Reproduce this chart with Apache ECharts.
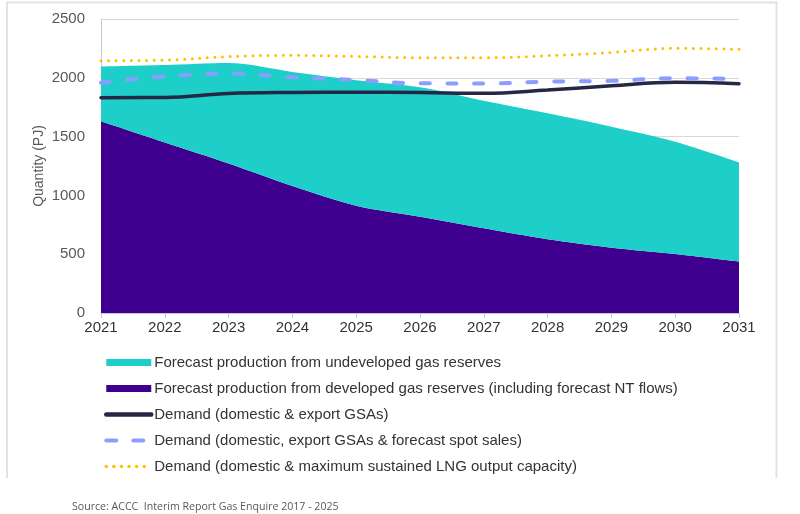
<!DOCTYPE html>
<html>
<head>
<meta charset="utf-8">
<script src="https://cdn.jsdelivr.net/npm/echarts@6/dist/echarts.min.js"></script>
<style>
html,body{margin:0;padding:0;background:#fff;}
#c{width:800px;height:514px;}
</style>
</head>
<body>
<div id="c"></div>
<script>
const years = ['2021','2022','2023','2024','2025','2026','2027','2028','2029','2030','2031'];
const developed = [1630, 1450, 1272, 1080, 912, 818, 720, 627, 555, 502, 438];
const undeveloped = [465, 658, 853, 970, 1068, 1102, 1085, 1071, 1029, 955, 843];
const demandGSA = [1831, 1833, 1866, 1875, 1877, 1874, 1868, 1896, 1932, 1962, 1950];
const demandSpot = [1958, 2012, 2036, 2004, 1981, 1953, 1952, 1967, 1974, 1996, 1990];
const demandLNG = [2145, 2150, 2180, 2191, 2182, 2171, 2171, 2188, 2215, 2251, 2242];
const yTicks = [0, 500, 1000, 1500, 2000, 2500];

const names = [
  'Forecast production from undeveloped gas reserves',
  'Forecast production from developed gas reserves (including forecast NT flows)',
  'Demand (domestic & export GSAs)',
  'Demand (domestic, export GSAs & forecast spot sales)',
  'Demand (domestic & maximum sustained LNG output capacity)'
];

const chart = echarts.init(document.getElementById('c'), null, {renderer:'canvas'});
const font = 'Liberation Sans, Arial, sans-serif';
chart.setOption({
  animation: false,
  backgroundColor: '#fff',
  textStyle: {fontFamily: font},
  grid: {left: 101, right: 61, top: 19, bottom: 201, containLabel: false},
  xAxis: {
    type: 'category', data: years, boundaryGap: false,
    axisLine: {lineStyle: {color: '#c8c8d8', width: 1}},
    axisTick: {show: true, alignWithLabel: true, length: 5, lineStyle: {color: '#c8c8d8'}},
    axisLabel: {color: '#333', fontSize: 15, margin: 7, fontFamily: font}
  },
  yAxis: {
    type: 'value', min: yTicks[0], max: yTicks[yTicks.length-1], interval: 500,
    name: 'Quantity (PJ)', nameLocation: 'middle', nameGap: 55, nameRotate: 90,
    nameMoveOverlap: false,
    nameTextStyle: {color: '#595959', fontSize: 14, fontFamily: font},
    axisLine: {show: true, lineStyle: {color: '#c8c8d8'}},
    axisTick: {show: false},
    axisLabel: {color: '#595959', fontSize: 15, margin: 16, fontFamily: font,
      formatter: function (v) { return String(v); }},
    splitLine: {lineStyle: {color: '#d9d9d9', width: 1}}
  },
  legend: {
    orient: 'vertical', left: 104, top: 355, padding: 0, itemGap: 11, itemWidth: 45, itemHeight: 7,
    itemStyle: {opacity: 0},
    textStyle: {color: '#333', fontSize: 15, fontFamily: font, padding: [0,0,0,-2]},
    data: [
      {name: names[0], icon: 'rect', itemStyle: {opacity: 1}},
      {name: names[1], icon: 'rect', itemStyle: {opacity: 1}},
      {name: names[2], lineStyle: {width: 4.5, cap: 'round', color: '#262645'}},
      {name: names[3], lineStyle: {width: 4, cap: 'round', type: [10, 17], color: '#8c9dff'}},
      {name: names[4], lineStyle: {width: 3.5, cap: 'round', type: [0, 7.6], color: '#ffc000'}}
    ]
  },
  series: [
    {
      name: names[1], type: 'line', stack: 'prod', data: developed, smooth: 0.3,
      symbol: 'none', lineStyle: {width: 0, color: '#40008f'},
      itemStyle: {color: '#40008f'},
      areaStyle: {color: '#40008f', opacity: 1}, z: 1
    },
    {
      name: names[0], type: 'line', stack: 'prod', data: undeveloped, smooth: 0.3,
      symbol: 'none', lineStyle: {width: 0, color: '#1ecfc9'},
      itemStyle: {color: '#1ecfc9'},
      areaStyle: {color: '#1ecfc9', opacity: 1}, z: 1
    },
    {
      name: names[2], type: 'line', data: demandGSA, smooth: 0.4, symbol: 'none',
      itemStyle: {color: '#262645'},
      lineStyle: {color: '#262645', width: 3.5, cap: 'round'}, z: 3
    },
    {
      name: names[3], type: 'line', data: demandSpot, smooth: 0.4, symbol: 'none',
      itemStyle: {color: '#8c9dff'},
      lineStyle: {color: '#8c9dff', width: 4, type: [9, 17.7], cap: 'round'}, z: 4
    },
    {
      name: names[4], type: 'line', data: demandLNG, smooth: 0.4, symbol: 'none',
      itemStyle: {color: '#ffc000'},
      lineStyle: {color: '#ffc000', width: 3, type: [0, 7.6], cap: 'round'}, z: 5
    }
  ],
  graphic: [
    {type: 'polyline', silent: true, shape: {points: [[7,478],[7,2.5],[776.5,2.5],[776.5,478]]},
     style: {stroke: '#e2e2e2', lineWidth: 2, fill: null}},
    {type: 'text', left: 72, top: 501, silent: true,
     style: {text: 'Source: ACCC  Interim Report Gas Enquire 2017 - 2025', fill: '#595959', font: '10.6px "Open Sans", sans-serif'}}
  ]
});
</script>
</body>
</html>
